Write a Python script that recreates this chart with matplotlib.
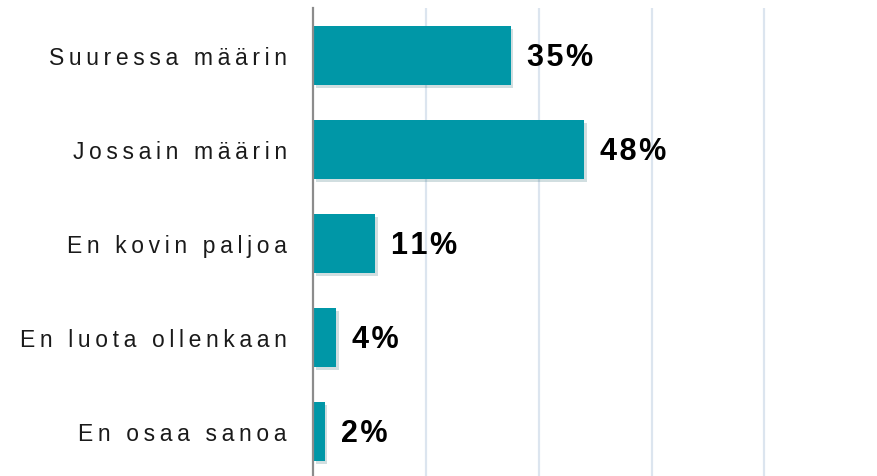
import matplotlib
matplotlib.use("Agg")
import matplotlib.pyplot as plt
import matplotlib.patheffects as pe

categories = ["Suuressa määrin", "Jossain määrin", "En kovin paljoa",
              "En luota ollenkaan", "En osaa sanoa"]
values = [35, 48, 11, 4, 2]
value_labels = ["35%", "48%", "11%", "4%", "2%"]

BAR = "#0097a7"
FAM = ["Liberation Sans", "DejaVu Sans"]

def spaced(s, sep="\u2009"):
    return sep.join(s)

fig = plt.figure(figsize=(8.77, 4.76), dpi=100)
ax = fig.add_axes([313.3 / 877, 0, 1 - 313.3 / 877, 468 / 476])

y = list(range(len(categories)))
bars = ax.barh(y, values, height=0.627, color=BAR, zorder=3)
for b in bars:
    b.set_path_effects([pe.SimplePatchShadow(offset=(2, -2), alpha=0.18, rho=0.5),
                        pe.Normal()])

ax.set_xlim(0, 100)
ax.set_ylim(4.47, -0.505)
ax.set_xticks([20, 40, 60, 80])
ax.xaxis.grid(True, color="#dce5ef", linewidth=1.6, zorder=0)
ax.tick_params(axis="x", length=0, labelbottom=False)
ax.set_yticks(y)
ax.set_yticklabels([spaced(c, "\u2009") for c in categories], family=FAM,
                   fontsize=16.5, color="#1a1a1a")
ax.tick_params(axis="y", length=0, pad=19)

for s in ["top", "right", "bottom"]:
    ax.spines[s].set_visible(False)
ax.spines["left"].set_color("#8c8c8c")
ax.spines["left"].set_linewidth(1.6)
ax.spines["left"].set_zorder(4)

for yi, v, lab in zip(y, values, value_labels):
    ax.annotate(spaced(lab, "\u200a"), xy=(v, yi), xytext=(16, -2),
                textcoords="offset pixels", va="center", ha="left",
                fontsize=22, fontweight="bold", family=FAM, color="#000000")

fig.savefig("out.png", dpi=100)
